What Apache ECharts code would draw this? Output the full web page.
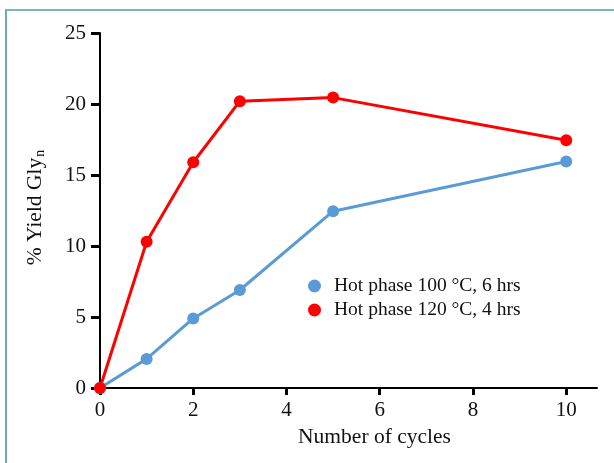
<!DOCTYPE html>
<html>
<head>
<meta charset="utf-8">
<script src="https://cdn.jsdelivr.net/npm/echarts@6/dist/echarts.min.js"></script>
<style>
    html, body { margin: 0; padding: 0; background: #fff; }
    #frame { position: absolute; left: 5px; top: 9px; width: 640px; height: 480px;
        border-left: 2px solid #6fa8c9; border-top: 2px solid #7fb1cb; }
    #chart { position: absolute; left: 0; top: 0; width: 614px; height: 463px; }
</style>
</head>
<body>
<div id="frame"></div>
<div id="chart"></div>
<script>
    // cycles on x
    var cycles = [0, 1, 2, 3, 5, 10];
    var yield100 = [0, 2.05, 4.9, 6.9, 12.45, 15.95];   // Hot phase 100 °C, 6 hrs
    var yield120 = [0, 10.3, 15.9, 20.2, 20.45, 17.45]; // Hot phase 120 °C, 4 hrs
    var xTicks = [0, 2, 4, 6, 8, 10];
    var seriesNames = ['Hot phase 100 °C, 6 hrs', 'Hot phase 120 °C, 4 hrs'];

    function pairs(xs, ys) {
        var out = [];
        for (var i = 0; i < xs.length; i++) {
            out.push([xs[i], ys[i]]);
        }
        return out;
    }

    var serif = 'Liberation Serif';
    var myChart = echarts.init(document.getElementById('chart'), null, { renderer: 'canvas' });
    var option = {
        backgroundColor: 'transparent',
        animation: false,
        grid: { left: 100, right: 17, top: 33, bottom: 75 },
        legend: {
            orient: 'vertical',
            left: 303,
            top: 271,
            itemGap: 4,
            icon: 'circle',
            itemWidth: 13,
            itemHeight: 13,
            textStyle: { fontFamily: serif, fontSize: 19.5, color: '#111', padding: [0, 0, 0, 8] },
            data: seriesNames
        },
        xAxis: {
            type: 'value',
            min: 0,
            max: 10.66,
            name: 'Number of cycles',
            nameLocation: 'middle',
            nameGap: 38,
            nameTextStyle: { fontFamily: serif, fontSize: 21.5, color: '#111', padding: [0, 0, 0, 52] },
            axisLine: { show: true, lineStyle: { color: '#000', width: 2 } },
            axisTick: { show: true, inside: false, length: 7, lineStyle: { color: '#000', width: 3 }, customValues: xTicks },
            axisLabel: { fontFamily: serif, fontSize: 21, color: '#111', margin: 12, customValues: xTicks },
            splitLine: { show: false }
        },
        yAxis: {
            type: 'value',
            min: 0,
            max: 25,
            interval: 5,
            name: '% Yield Gly{sub|n}',
            nameLocation: 'middle',
            nameGap: 53,
            nameRotate: 90,
            nameTextStyle: {
                fontFamily: serif, fontSize: 21.5, color: '#111', padding: [0, 0, 0, 6],
                rich: { sub: { fontFamily: serif, fontSize: 14, color: '#111', padding: [10, 0, 0, 1] } }
            },
            axisLine: { show: true, lineStyle: { color: '#000', width: 2 } },
            axisTick: { show: true, inside: false, length: 9, lineStyle: { color: '#000', width: 3 } },
            axisLabel: { fontFamily: serif, fontSize: 21, color: '#111', margin: 14 },
            splitLine: { show: false }
        },
        series: [
            {
                name: seriesNames[0],
                type: 'line',
                data: pairs(cycles, yield100),
                symbol: 'circle',
                symbolSize: 12,
                itemStyle: { color: '#5b9bd5' },
                lineStyle: { color: '#5b9bd5', width: 3 }
            },
            {
                name: seriesNames[1],
                type: 'line',
                data: pairs(cycles, yield120),
                symbol: 'circle',
                symbolSize: 12,
                itemStyle: { color: '#ff0000' },
                lineStyle: { color: '#ff0000', width: 3 }
            }
        ]
    };
    myChart.setOption(option);
</script>
</body>
</html>
